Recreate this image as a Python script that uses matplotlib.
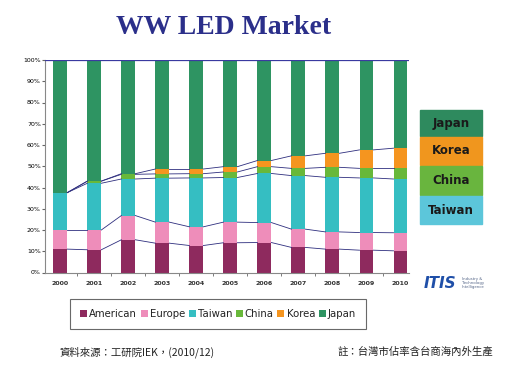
import numpy as np
import matplotlib.pyplot as plt
from matplotlib.patches import Rectangle

plt.rcParams['font.family'] = ['Noto Sans CJK TC', 'DejaVu Sans']

years = ['2000', '2001', '2002', '2003', '2004', '2005', '2006', '2007', '2008', '2009', '2010']
series = ['American', 'Europe', 'Taiwan', 'China', 'Korea', 'Japan']
american = [11.0, 10.7, 15.4, 13.8, 12.7, 14.0, 14.1, 11.8, 11.0, 10.5, 10.2]
europe = [9.0, 9.3, 11.4, 9.9, 8.8, 9.7, 9.4, 8.6, 8.1, 8.3, 8.5]
taiwan = [17.6, 22.0, 17.2, 20.7, 23.0, 21.0, 23.1, 25.2, 25.7, 25.7, 25.3]
china = [0.0, 1.0, 2.2, 2.0, 2.0, 2.6, 3.2, 3.4, 4.7, 4.5, 5.0]
korea = [0.0, 0.0, 0.3, 2.3, 2.2, 2.5, 2.9, 5.9, 6.6, 8.7, 9.5]
japan = [100 - sum(v) for v in zip(american, europe, taiwan, china, korea)]

colors = ['#8E2A5E', '#EE8DBA', '#35BEC2', '#68B83A', '#F5951F', '#2E9462']
line_color = '#2E2E7E'

fig = plt.figure(figsize=(5.08, 3.77), dpi=100)
ax = fig.add_axes([45 / 508, 1 - 272.5 / 377, (409 - 45) / 508, (272.5 - 60) / 377])

x = np.arange(len(years))
w = 0.41
bottom = np.zeros(len(years))
tops = []
for name, vals, c in zip(series, [american, europe, taiwan, china, korea, japan], colors):
    vals = np.array(vals)
    ax.bar(x, vals, w, bottom=bottom, color=c, label=name, zorder=2)
    bottom = bottom + vals
    tops.append(bottom.copy())

# connector lines between bar segments
for t in tops[:-1]:
    for i in range(len(years) - 1):
        ax.plot([x[i] + w / 2, x[i + 1] - w / 2], [t[i], t[i + 1]],
                color=line_color, lw=0.6, zorder=3)
ax.axhline(100, color='#3A3AA0', lw=0.9, zorder=3)

ax.set_xlim(-0.45, 10.25)
ax.set_ylim(0, 100)
ax.set_yticks(range(0, 101, 10))
ax.set_yticklabels([f'{v}%' for v in range(0, 101, 10)], fontsize=4.5, family='DejaVu Sans')
ax.set_xticks(x)
ax.set_xticklabels(years, fontsize=4.5, fontweight='bold', family='DejaVu Sans', color='#333333')
ax.set_xticks(x[:-1] + 0.5, minor=True)
ax.tick_params(axis='x', which='major', length=0, pad=6)
ax.tick_params(axis='x', which='minor', length=2, color='#666666')
ax.tick_params(axis='y', length=2, color='#666666', pad=1)
for s in ['top', 'right']:
    ax.spines[s].set_visible(False)
ax.spines['left'].set_color('#888888')
ax.spines['bottom'].set_color('#888888')

leg = fig.legend(loc='center', bbox_to_anchor=(218 / 508, 1 - 314 / 377), ncol=6,
                 fancybox=False, handlelength=0.7,
                 handleheight=0.7, handletextpad=0.2, columnspacing=0.35,
                 borderpad=1.0, edgecolor='#444444', frameon=True,
                 prop={'family': 'DejaVu Sans', 'size': 7.3})
leg.get_frame().set_linewidth(0.8)
for t in leg.get_texts():
    t.set_color('#222222')

# side labels
side = [('Japan', '#2E8A5E', 110, 136), ('Korea', '#F0961E', 137, 165),
        ('China', '#69B53E', 166, 195), ('Taiwan', '#5CC6DA', 196, 224)]
for name, c, y0, y1 in side:
    fig.patches.append(Rectangle((420 / 508, 1 - y1 / 377), 62 / 508, (y1 - y0) / 377,
                                 transform=fig.transFigure, color=c, zorder=1))
    fig.text(451 / 508, 1 - (y0 + y1) / 2 / 377, name, ha='center', va='center',
             fontsize=8.5, fontweight='bold', color='#1A1A1A', family='DejaVu Sans')

fig.text(224 / 508, 1 - 27 / 377, 'WW LED Market', ha='center', va='center',
         fontsize=20, fontweight='bold', color='#2B2F8A', family='Liberation Serif')

fig.text(60 / 508, 1 - 352 / 377, '資料來源：工研院IEK，(2010/12)', ha='left', va='center',
         fontsize=7.5, color='#222222')
fig.text(493 / 508, 1 - 352 / 377, '註：台灣市佔率含台商海內外生產', ha='right', va='center',
         fontsize=7.5, color='#222222')

# logo
fig.text(424 / 508, 1 - 283 / 377, 'ITIS', ha='left', va='center', fontsize=11,
         fontweight='bold', style='italic', color='#1F4FA8', family='DejaVu Sans')
fig.text(462 / 508, 1 - 283 / 377, 'Industry &\nTechnology\nIntelligence', ha='left',
         va='center', fontsize=2.8, color='#556688', family='DejaVu Sans', linespacing=1.1)

fig.savefig('out.png', dpi=100)
